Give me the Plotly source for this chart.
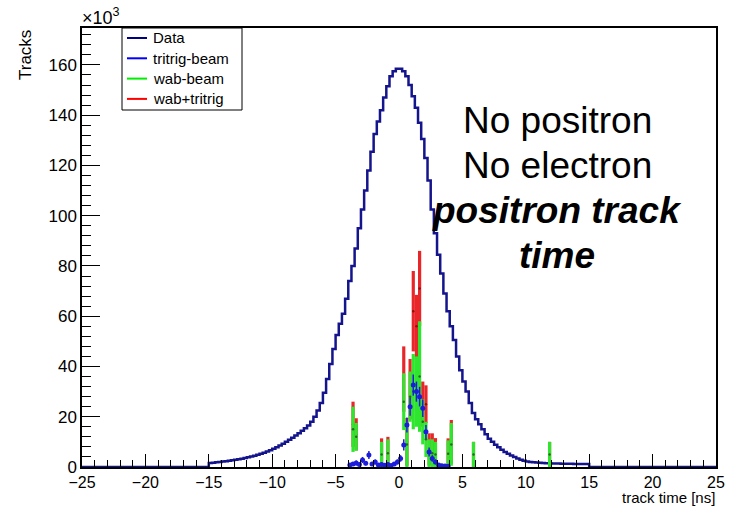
import numpy as np
import plotly.graph_objects as go

# Histogram binning of track time (ns)
BIN_LO, BIN_HI, BIN_W = -15.0, 15.0, 0.25

# Data: tracks per 0.25 ns bin from -15 to 15 ns, in units of 10^3
data_counts = [
    1.6, 1.7, 1.9, 2.0,
    2.2, 2.3, 2.5, 2.7,
    2.9, 3.1, 3.3, 3.6,
    3.9, 4.2, 4.5, 4.9,
    5.3, 5.7, 6.2, 6.7,
    7.3, 7.9, 8.6, 9.3,
    10.0, 10.8, 11.6, 12.5,
    13.4, 14.4, 15.4, 16.5,
    18.0, 20.0, 22.5, 25.5,
    29.5, 35.0, 41.0, 47.0,
    52.5, 57.0, 61.0, 67.0,
    74.0, 80.0, 87.0, 95.0,
    102.5, 110.0, 118.0, 125.5,
    132.5, 137.5, 142.0, 147.0,
    151.5, 155.5, 157.5, 158.5,
    158.5, 157.5, 155.5, 152.0,
    147.5, 143.0, 137.0, 130.5,
    123.0, 114.0, 102.5, 93.0,
    84.5, 77.0, 69.0, 62.0,
    56.0, 50.5, 44.0, 38.5,
    34.0, 30.0, 25.5, 21.5,
    19.0, 17.0, 15.0, 13.0,
    11.2, 10.0, 8.9, 7.9,
    6.9, 6.0, 5.3, 4.6,
    4.0, 3.4, 2.9, 2.5,
    2.2, 2.0, 1.9, 1.8,
    1.7, 1.6, 1.5, 1.5,
    1.4, 1.4, 1.4, 1.3,
    1.3, 1.3, 1.3, 1.2,
    1.2, 1.2, 1.2, 1.2,
]

# tritrig-beam MC: bin centres (ns), contents and errors (10^3)
tritrig_t = [-3.875, -3.625, -3.375, -3.125, -2.875, -2.625, -2.375, -2.125,
             -1.875, -1.625, -1.375, -1.125, -0.875, -0.625, -0.375, -0.125,
             0.125, 0.375, 0.625, 0.875, 1.125, 1.375, 1.625, 1.875,
             2.125, 2.375, 2.625, 2.875, 3.125, 3.375, 3.625, 3.875]
tritrig_val = [0.8, 1.2, 1.6, 1.0, 2.8, 1.5, 4.8, 1.2,
               2.0, 0.8, 1.0, 0.7, 1.0, 0.6, 1.2, 2.0,
               3.4, 8.8, 16.7, 24.0, 32.6, 30.0, 28.0, 23.4,
               14.0, 6.0, 3.4, 2.0, 0.8, 0.5, 0.4, 0.3]
tritrig_err = [0.6, 0.8, 1.0, 0.8, 1.2, 0.9, 1.6, 0.8,
               1.0, 0.6, 0.7, 0.6, 0.7, 0.5, 0.8, 1.0,
               1.3, 2.2, 3.0, 3.6, 4.2, 4.0, 3.9, 3.5,
               2.7, 1.8, 1.3, 1.0, 0.6, 0.5, 0.4, 0.4]

# wab-beam and wab+tritrig MC: bin centres (ns), contents and errors (10^3)
wab_t = [-3.625, -3.375, -1.375, -0.875, 0.375, 0.625, 0.875, 1.125, 1.375,
         1.625, 1.875, 2.125, 2.375, 2.625, 2.875, 3.875, 4.125, 5.875, 11.875]
wab_val = [15.0, 12.0, 5.0, 5.5, 26.0, 9.0, 28.0, 30.0, 30.0,
           36.0, 18.0, 11.0, 5.5, 5.5, 5.0, 5.3, 9.0, 5.0, 5.0]
wab_err = [9.0, 5.5, 5.0, 5.5, 11.3, 9.0, 10.0, 15.0, 14.0,
           22.0, 9.0, 7.0, 5.5, 5.5, 5.0, 5.3, 8.5, 5.0, 5.0]
wabtri_val = [17.0, 13.0, 6.0, 6.0, 35.0, 10.0, 31.0, 62.0, 56.0,
              71.0, 25.0, 25.0, 7.0, 7.0, 6.0, 5.7, 10.0, 5.0, 5.0]
wabtri_err = [9.0, 6.4, 5.4, 6.0, 13.0, 9.5, 12.0, 16.0, 12.5,
              15.0, 9.0, 7.5, 6.4, 6.4, 5.5, 5.7, 8.7, 5.0, 5.0]

legend_names = ["Data", "tritrig-beam", "wab-beam", "wab+tritrig"]
legend_colors = ["#000080", "#0000ff", "#00ee00", "#ff0000"]

NAVY = "#14148c"
BLUE = "#1c1cdc"
GREEN = "#2ee62e"
RED = "#e8262a"
FONT = "Liberation Sans, Arial, Helvetica, sans-serif"

W, H = 730, 507
ML, MR, MT, MB = 82, 14, 28, 40
PW, PH = W - ML - MR, H - MT - MB


def px(xp):
    return (xp - ML) / PW


def py(yp):
    return 1 - (yp - MT) / PH


# step outline of the data histogram over the full axis range
edges = BIN_LO + BIN_W * np.arange(len(data_counts))
step_x = [-25.0] + list(edges) + [BIN_HI, 25.0]
step_y = [0.0] + list(data_counts) + [0.0, 0.0]

fig = go.Figure()

fig.add_trace(go.Scatter(
    x=step_x, y=step_y, mode="lines", line_shape="hv",
    line=dict(color=NAVY, width=2.5), name="Data"))

fig.add_trace(go.Scatter(
    x=wab_t, y=wabtri_val, mode="markers", name="wab+tritrig",
    marker=dict(color="#8a1010", size=2.5),
    error_y=dict(type="data", array=wabtri_err, color=RED,
                 thickness=3.2, width=0)))

fig.add_trace(go.Scatter(
    x=wab_t, y=wab_val, mode="markers", name="wab-beam",
    marker=dict(color="#1e6e1e", size=2.5),
    error_y=dict(type="data", array=wab_err, color=GREEN,
                 thickness=3.2, width=0)))

fig.add_trace(go.Scatter(
    x=tritrig_t, y=tritrig_val, mode="markers", name="tritrig-beam",
    marker=dict(color=BLUE, size=5),
    error_y=dict(type="data", array=tritrig_err, color=BLUE,
                 thickness=1.5, width=0)))

# legend box drawn with shapes and text
shapes = [dict(type="rect", xref="paper", yref="paper",
               x0=px(122), x1=px(242), y0=py(110), y1=py(28),
               line=dict(color="black", width=1), fillcolor="white",
               layer="above")]
annotations = []
for i, (nm, col) in enumerate(zip(legend_names, legend_colors)):
    yc = 38 + 20.3 * i
    shapes.append(dict(type="line", xref="paper", yref="paper",
                       x0=px(127), x1=px(147), y0=py(yc), y1=py(yc),
                       line=dict(color=col, width=2), layer="above"))
    annotations.append(dict(text=nm, xref="paper", yref="paper",
                            x=px(151), y=py(yc), xanchor="left",
                            yanchor="middle", showarrow=False,
                            font=dict(family=FONT, size=15, color="black")))

text_lines = [
    ("No positron", 120),
    ("No electron", 165),
    ("<b><i>positron track</i></b>", 210),
    ("<b><i>time</i></b>", 255),
]
for txt, ypix in text_lines:
    annotations.append(dict(
        text=txt, xref="paper", yref="paper",
        x=px(557), y=py(ypix),
        xanchor="center", yanchor="middle", showarrow=False,
        font=dict(family=FONT, size=37, color="black")))

annotations += [
    dict(text="Tracks", xref="paper", yref="paper", textangle=-90,
         x=px(25), y=1.0, xanchor="center", yanchor="top",
         showarrow=False, font=dict(family=FONT, size=17, color="black")),
    dict(text="×10<sup>3</sup>", xref="paper", yref="paper",
         x=px(80), y=1.0, xanchor="left", yanchor="bottom", yshift=-2,
         showarrow=False, font=dict(family=FONT, size=18, color="black")),
    dict(text="track time [ns]", xref="paper", yref="paper",
         x=px(716), y=py(507), xanchor="right", yanchor="bottom",
         borderpad=0,
         showarrow=False, font=dict(family=FONT, size=15, color="black")),
]

fig.update_layout(
    width=W, height=H,
    margin=dict(l=ML, r=MR, t=MT, b=MB),
    paper_bgcolor="white", plot_bgcolor="white",
    font=dict(family=FONT, size=16, color="black"),
    showlegend=False,
    shapes=shapes,
    annotations=annotations,
    xaxis=dict(range=[-25, 25], dtick=5, tick0=-25, ticks="inside",
               ticklen=13, tickwidth=1, tickcolor="black",
               minor=dict(dtick=1, ticks="inside", ticklen=7,
                          tickcolor="black", tickwidth=1),
               showgrid=False, zeroline=False, showline=True,
               linecolor="black", linewidth=1.5, mirror=True,
               automargin=False,
               tickfont=dict(family=FONT, size=16, color="black")),
    yaxis=dict(range=[0, 174.7], dtick=20, tick0=0, ticks="inside",
               ticklen=18, tickwidth=1, tickcolor="black",
               minor=dict(dtick=4, ticks="inside", ticklen=9,
                          tickcolor="black", tickwidth=1),
               showgrid=False, zeroline=False, showline=True,
               linecolor="black", linewidth=1.5, mirror=True,
               automargin=False,
               tickfont=dict(family=FONT, size=17, color="black")),
)

fig.write_html("out.html")
